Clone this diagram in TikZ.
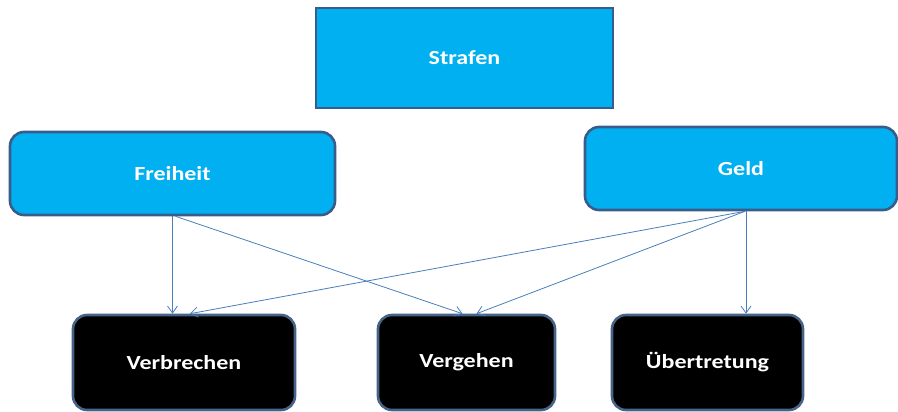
\documentclass[tikz,border=0pt]{standalone}
\usepackage{fontspec}
\setmainfont{Carlito}
\newfontfamily\boxfont{Carlito}[FakeStretch=1.2]
\usetikzlibrary{positioning,arrows.meta,calc}
\definecolor{sky}{HTML}{00B0F0}
\definecolor{edge}{HTML}{385D8A}
\definecolor{link}{HTML}{4A7EBB}

\begin{document}
\begin{tikzpicture}[x=1pt,y=-1pt,
  top/.style={draw=edge,line width=2.6pt,fill=sky,text=white,font=\boxfont\bfseries\fontsize{20}{24}\selectfont},
  mid/.style={top,rounded corners=14pt},
  low/.style={mid,fill=black,draw=edge!80!gray},
  arr/.style={link,line width=.8pt,-{Straight Barb[length=7pt,width=10pt]}}]
  \useasboundingbox (0,0) rectangle (898,412);
  \node[top,minimum width=297,minimum height=100] (strafen) at (464.5,58){Strafen};
  \node[mid,minimum width=325,minimum height=83] (freiheit) at (172.5,173.5){Freiheit};
  \node[mid,minimum width=312,minimum height=83] (geld) at (741,168.5){Geld};
  \node[low,minimum width=222,minimum height=95] (verbrechen) at (184,362.5){Verbrechen};
  \node[low,minimum width=177,minimum height=95] (vergehen) at (466.5,362.5){Vergehen};
  \node[low,minimum width=191,minimum height=95] (uebertretung) at (707.5,362.5){Übertretung};
  % Freiheit
  \draw[arr] (freiheit.south) -- (freiheit.south |- verbrechen.north);
  \draw[arr] ([xshift=3]freiheit.south) -- ([xshift=-4]vergehen.north);
  % Geld
  \draw[arr] ([xshift=4]geld.south) -- ([xshift=6]verbrechen.north);
  \draw[arr] ([xshift=4]geld.south) -- ([xshift=10]vergehen.north);
  \draw[arr] ([xshift=5]geld.south) -- ([xshift=5]geld.south |- uebertretung.north);
\end{tikzpicture}
\end{document}
